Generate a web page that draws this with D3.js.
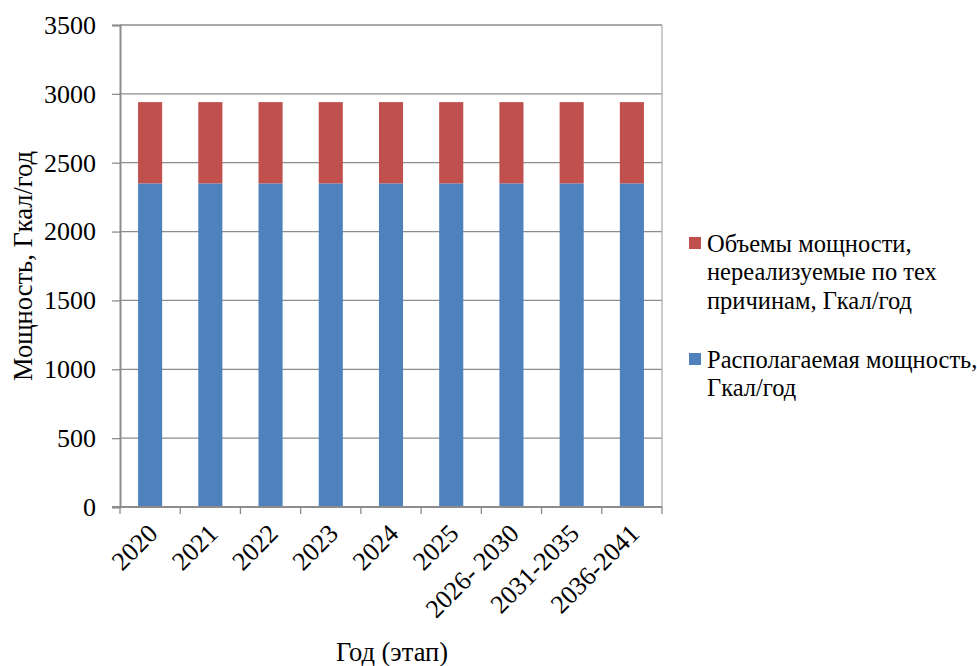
<!DOCTYPE html>
<html>
<head>
<meta charset="utf-8">
<script src="https://cdn.jsdelivr.net/npm/d3@7"></script>
<style>
  html, body { margin: 0; padding: 0; background: #fff; }
  svg { display: block; }
</style>
</head>
<body>
<svg id="chart" width="977" height="666"></svg>
<script>
// Periods (stages)
const categories = ["2020", "2021", "2022", "2023", "2024", "2025", "2026- 2030", "2031-2035", "2036-2041"];
// Available capacity, Gcal/year
const available = [2350, 2350, 2350, 2350, 2350, 2350, 2350, 2350, 2350];
// Capacity not realisable for technical reasons, Gcal/year
const unrealised = [590, 590, 590, 590, 590, 590, 590, 590, 590];
const yTicks = [0, 500, 1000, 1500, 2000, 2500, 3000, 3500];

const colors = ["#4F81BD", "#C0504D"];
const FONT = "'Liberation Serif'";

const svg = d3.select("#chart");
const m = { left: 120, right: 662, top: 25, bottom: 507 };

const x = d3.scaleBand().domain(categories).range([m.left, m.right]).paddingInner(0.6).paddingOuter(0.3);
const y = d3.scaleLinear().domain([0, 3500]).range([m.bottom, m.top]);

const grid = "#8c8c8c";

// horizontal gridlines
svg.append("g").selectAll("line").data(yTicks.filter(d => d > 0)).join("line")
  .attr("x1", m.left).attr("x2", m.right)
  .attr("y1", d => y(d)).attr("y2", d => y(d))
  .attr("stroke", grid).attr("stroke-width", 1.3);

// right border of plot area
svg.append("line").attr("x1", m.right).attr("x2", m.right).attr("y1", m.top).attr("y2", m.bottom)
  .attr("stroke", "#b0b0b0").attr("stroke-width", 1.3);

// stacked bars
const rows = categories.map((c, i) => ({ cat: c, a: available[i], b: unrealised[i] }));
const stack = d3.stack().keys(["a", "b"])(rows);
svg.append("g").selectAll("g").data(stack).join("g")
  .attr("fill", (d, i) => colors[i])
  .selectAll("rect").data(d => d).join("rect")
  .attr("x", d => x(d.data.cat))
  .attr("width", x.bandwidth())
  .attr("y", d => y(d[1]))
  .attr("height", d => y(d[0]) - y(d[1]));

// Y axis
const yAxis = d3.axisLeft(y).tickValues(yTicks).tickSize(8).tickPadding(16).tickFormat(d3.format("d"));
const gy = svg.append("g").attr("transform", `translate(${m.left},0)`).call(yAxis)
  .attr("font-family", null).attr("font-size", null);
gy.select(".domain").attr("stroke", grid).attr("stroke-width", 2);
gy.selectAll(".tick line").attr("stroke", grid).attr("stroke-width", 1.3);
gy.selectAll(".tick text").style("font-family", FONT).style("font-size", "26px").attr("fill", "#000");

// X axis with boundary ticks between categories
const bounds = d3.range(categories.length + 1).map(i => m.left + i * (m.right - m.left) / categories.length);
const gx = svg.append("g");
gx.append("line").attr("x1", m.left - 8).attr("x2", m.right).attr("y1", m.bottom).attr("y2", m.bottom)
  .attr("stroke", grid).attr("stroke-width", 2);
gx.selectAll("line.t").data(bounds).join("line").attr("class", "t")
  .attr("x1", d => d).attr("x2", d => d).attr("y1", m.bottom).attr("y2", m.bottom + 7)
  .attr("stroke", grid).attr("stroke-width", 1.3);
gx.selectAll("text").data(categories).join("text")
  .attr("transform", d => `translate(${x(d) + x.bandwidth() / 2 + 9},${m.bottom + 28}) rotate(-45)`)
  .attr("text-anchor", "end")
  .style("font-family", FONT)
  .style("font-size", "26px")
  .text(d => d);

// axis titles
svg.append("text").attr("transform", `translate(32,266) rotate(-90)`).attr("text-anchor", "middle")
  .style("font-family", FONT).style("font-size", "26.5px").text("Мощность, Гкал/год");
svg.append("text").attr("x", 392).attr("y", 661).attr("text-anchor", "middle")
  .style("font-family", FONT).style("font-size", "26.5px").text("Год (этап)");

// legend
const legendItems = [
  { color: colors[1], lines: ["Объемы мощности,", "нереализуемые по тех", "причинам, Гкал/год"], y: 252 },
  { color: colors[0], lines: ["Располагаемая мощность,", "Гкал/год"], y: 368 }
];
const lg = svg.append("g").selectAll("g").data(legendItems).join("g");
lg.append("rect").attr("x", 689).attr("y", d => d.y - 15).attr("width", 12).attr("height", 12).attr("fill", d => d.color);
lg.append("text").attr("x", 707).attr("y", d => d.y)
  .style("font-family", FONT).style("font-size", "24.5px")
  .selectAll("tspan").data(d => d.lines).join("tspan")
  .attr("x", 707).attr("dy", (d, i) => i === 0 ? 0 : 28.4).text(d => d);
</script>
</body>
</html>
